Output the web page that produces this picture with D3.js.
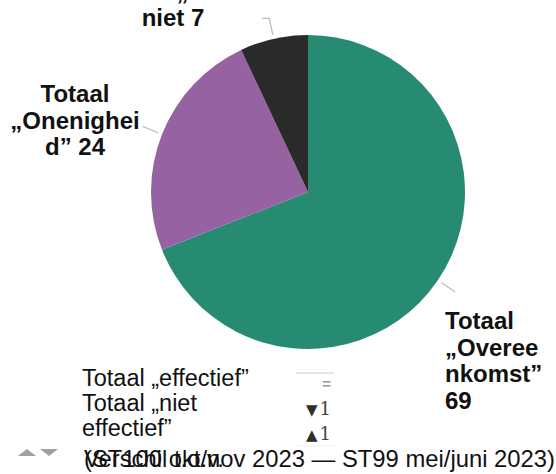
<!DOCTYPE html>
<html>
<head>
<meta charset="utf-8">
<script src="https://cdn.jsdelivr.net/npm/d3@7"></script>
<style>
  html, body { margin: 0; padding: 0; background: #fff; }
  svg { display: block; font-family: "Liberation Sans", Arial, sans-serif; }
</style>
</head>
<body>
<svg id="chart" width="556" height="474"></svg>
<script>
// Pie slices, clockwise from 12 o'clock
const categories = ["Totaal „Overeenkomst”", "Totaal „Onenigheid”", "Totaal „Weet niet"];
const values = [69, 24, 7];
const colors = ["#278a73", "#9662a2", "#2a2a2a"];

// Legend rows and change markers
const legendLabels = ["Totaal „effectief”", "Totaal „niet effectief”"];
const deltaMarks = ["=", "▼", "▲"];
const deltaValues = ["", "1", "1"];
const footnote = "(ST100 okt/nov 2023 — ST99 mei/juni 2023)";
const footnoteLead = "Verschil t.o.v.";

const svg = d3.select("#chart");
const cx = 308, cy = 192, R = 157;

const pie = d3.pie().sort(null).value(d => d)(values);
const arc = d3.arc().innerRadius(0).outerRadius(R);

const g = svg.append("g").attr("transform", `translate(${cx},${cy})`);
g.selectAll("path.slice")
  .data(pie)
  .join("path")
  .attr("class", "slice")
  .attr("d", arc)
  .attr("fill", (d, i) => colors[i]);

// Leader lines from each slice's mid-angle
const leaderArcIn = d3.arc().innerRadius(R + 4).outerRadius(R + 4);
const leaderArcOut = d3.arc().innerRadius(R + 21).outerRadius(R + 21);
const hook = [0, 0, -7];
g.selectAll("polyline.leader")
  .data(pie)
  .join("polyline")
  .attr("class", "leader")
  .attr("fill", "none")
  .attr("stroke", "#bdbdbd")
  .attr("stroke-width", 1.3)
  .attr("points", (d, i) => {
    const a = leaderArcIn.centroid(d), b = leaderArcOut.centroid(d);
    const pts = [a, b];
    if (hook[i]) pts.push([b[0] + hook[i], b[1]]);
    return pts.map(p => p.join(",")).join(" ");
  });

// Text wrapping: by words, breaking long words by characters
const measurer = svg.append("text").attr("visibility", "hidden");
function textWidth(s, size, weight) {
  measurer.attr("font-size", size).attr("font-weight", weight).text(s);
  return measurer.node().getComputedTextLength();
}
function wrap(str, maxW, size, weight) {
  const words = str.split(" ");
  const lines = [];
  let cur = "";
  for (const w of words) {
    const trial = cur ? cur + " " + w : w;
    if (textWidth(trial, size, weight) <= maxW) { cur = trial; continue; }
    if (cur) lines.push(cur);
    cur = "";
    if (textWidth(w, size, weight) <= maxW) { cur = w; continue; }
    let piece = "";
    for (const ch of w) {
      if (textWidth(piece + ch, size, weight) <= maxW) piece += ch;
      else { lines.push(piece); piece = ch; }
    }
    cur = piece;
  }
  if (cur) lines.push(cur);
  return lines;
}

// Slice labels
const labelFont = 24, labelLH = 26.5;
const labelLayout = [
  { x: 445, y: 329, anchor: "start", maxW: 100, fromBottom: false },
  { x: 75, y: 102, anchor: "middle", maxW: 132, fromBottom: false },
  { x: 173, y: 26, anchor: "middle", maxW: 155, fromBottom: true }
];
pie.forEach((d, i) => {
  const L = labelLayout[i];
  const lines = wrap(categories[i] + " " + values[i], L.maxW, labelFont, "bold");
  const y0 = L.fromBottom ? L.y - (lines.length - 1) * labelLH : L.y;
  const t = svg.append("text")
    .attr("x", L.x).attr("y", y0)
    .attr("text-anchor", L.anchor)
    .attr("font-size", labelFont)
    .attr("font-weight", "bold")
    .attr("fill", "#111");
  lines.forEach((ln, k) => {
    t.append("tspan").attr("x", L.x).attr("dy", k === 0 ? 0 : labelLH).text(ln);
  });
});

// Legend text
const legFont = 23.5, legLH = 25;
let legY = 386;
legendLabels.forEach(lbl => {
  const lines = wrap(lbl, 195, legFont, "normal");
  lines.forEach(ln => {
    svg.append("text").attr("x", 82).attr("y", legY)
      .attr("font-size", legFont).attr("fill", "#111").text(ln);
    legY += legLH;
  });
});

// Change column
svg.append("line").attr("x1", 296).attr("x2", 334).attr("y1", 373).attr("y2", 373)
  .attr("stroke", "#e6e6e6").attr("stroke-width", 2);
svg.append("line").attr("x1", 296).attr("x2", 334).attr("y1", 446).attr("y2", 446)
  .attr("stroke", "#f0f0f0").attr("stroke-width", 1);
const deltaY = [389, 415, 440];
deltaMarks.forEach((m, i) => {
  const y = deltaY[i];
  const t = svg.append("text").attr("x", 331).attr("y", y).attr("text-anchor", "end");
  if (m === "=") {
    t.attr("font-size", 15).attr("fill", "#9a9a9a").attr("font-weight", "bold").text(m);
  } else {
    t.append("tspan").attr("font-family", "DejaVu Sans, sans-serif").attr("font-size", 15)
      .attr("fill", "#2e2e2e").text(m);
    t.append("tspan").attr("dx", 2).attr("font-family", "DejaVu Serif, serif").attr("font-size", 18)
      .attr("fill", "#444").text(deltaValues[i]);
  }
});

// Footnote: up/down arrow key followed by the comparison period
const tri = (x0, x1, yBase, yTip) => `M${x0},${yBase}L${x1},${yBase}L${(x0 + x1) / 2},${yTip}Z`;
svg.append("path").attr("d", tri(18, 36, 456, 449)).attr("fill", "#a0a0a0");
svg.append("path").attr("d", tri(40, 58, 449, 456)).attr("fill", "#a0a0a0");
svg.append("text").attr("x", 84).attr("y", 467).attr("font-size", 23.8)
  .attr("fill", "#111").text(footnoteLead);
svg.append("text").attr("x", 84).attr("y", 467).attr("font-size", 23.8)
  .attr("fill", "#111").text(footnote);

measurer.remove();
</script>
</body>
</html>
